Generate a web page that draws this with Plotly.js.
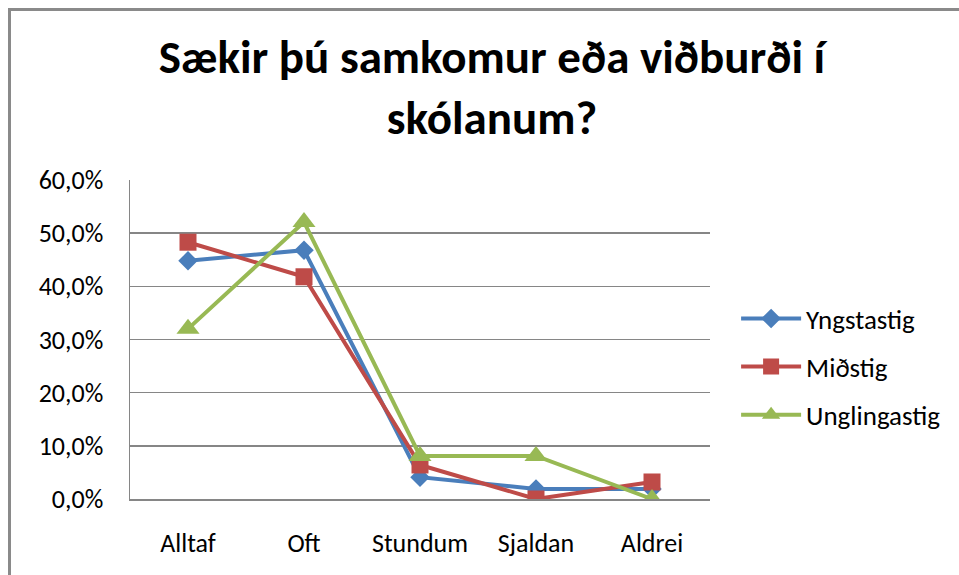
<!DOCTYPE html>
<html>
<head>
<meta charset="utf-8">
<script src="https://cdn.plot.ly/plotly-3.0.1.min.js"></script>
<style>
html,body{margin:0;padding:0;background:#fff;overflow:hidden;}
#frame{position:absolute;left:8px;top:8px;width:1000px;height:620px;border:3px solid #8a8a8a;box-sizing:border-box;}
#chart{position:absolute;left:0;top:0;width:959px;height:575px;}
</style>
</head>
<body>
<div id="chart"></div>
<div id="frame"></div>
<script>
const categories = ["Alltaf", "Oft", "Stundum", "Sjaldan", "Aldrei"];
const seriesNames = ["Yngstastig", "Miðstig", "Unglingastig"];
const yngstastig = [44.8, 46.8, 4.1, 1.9, 1.9];
const midstig = [48.3, 41.8, 6.4, 0.0, 3.2];
const unglingastig = [32.0, 52.1, 8.1, 8.1, 0.0];
const yTickVals = [0, 10, 20, 30, 40, 50, 60];
const yTickText = ["0,0%", "10,0%", "20,0%", "30,0%", "40,0%", "50,0%", "60,0%"];

const font = "Calibri, Carlito, 'Open Sans', 'Noto Sans', sans-serif";
const colors = ["#4A7EBB", "#BE4B48", "#98B954"];
const symbols = ["diamond", "square", "triangle-up"];
const sizes = [15, 17, 20];
const values = [yngstastig, midstig, unglingastig];

const traces = values.map((v, i) => ({
  type: "scatter",
  mode: "lines+markers",
  x: categories,
  y: v,
  name: seriesNames[i],
  legendgroup: "g" + i,
  line: {color: colors[i], width: 4},
  marker: {color: colors[i], symbol: symbols[i], size: sizes[i]}
}));

const layout = {
  width: 959, height: 575,
  paper_bgcolor: "#fff", plot_bgcolor: "#fff",
  margin: {l: 130, r: 249, t: 180, b: 76},
  title: {
    text: "Sækir þú samkomur eða viðburði í<br>skólanum?",
    font: {family: font, size: 47, color: "#000", weight: 700},
    x: 0.513, xanchor: "center", y: 0.873, yanchor: "top"
  },
  xaxis: {
    type: "category",
    range: [-0.5, 4.5],
    showgrid: false,
    showline: true, linecolor: "#868686", linewidth: 1.5,
    ticks: "",
    tickfont: {family: font, size: 26, color: "#000"},
    ticklabelstandoff: 20
  },
  yaxis: {
    range: [0, 60],
    tickvals: yTickVals,
    ticktext: yTickText,
    showgrid: true, gridcolor: "#868686", gridwidth: 1.5,
    showline: true, linecolor: "#868686", linewidth: 1.5,
    zeroline: false,
    ticks: "",
    tickfont: {family: font, size: 26, color: "#000"},
    ticklabelstandoff: 20
  },
  legend: {
    x: 1.045, y: 0.414, xanchor: "left", yanchor: "middle",
    font: {family: font, size: 27, color: "#000"},
    tracegroupgap: 10, itemwidth: 60
  },
  showlegend: true
};

Plotly.newPlot("chart", traces, layout, {displayModeBar: false, staticPlot: true});
</script>
</body>
</html>
